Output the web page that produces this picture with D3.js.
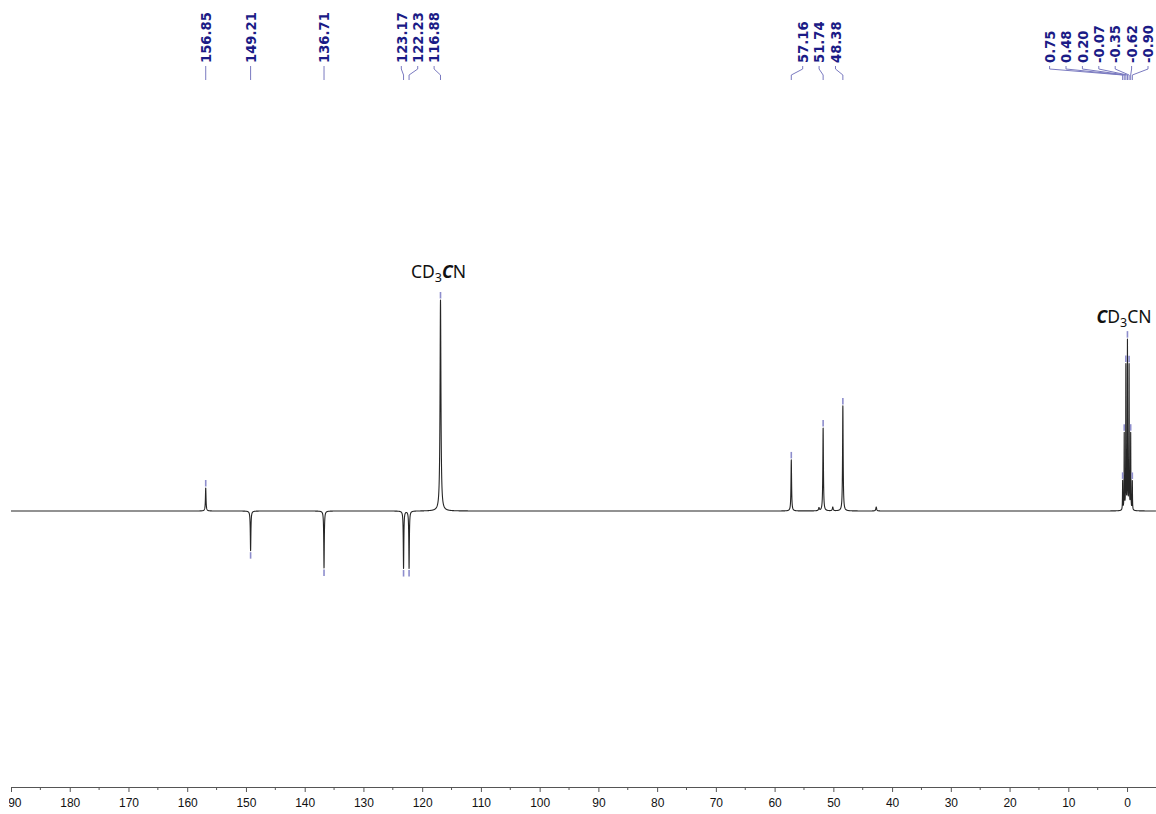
<!DOCTYPE html>
<html>
<head>
<meta charset="utf-8">
<script src="https://cdn.jsdelivr.net/npm/d3@7/dist/d3.min.js"></script>
<style>
  html, body { margin: 0; padding: 0; background: #fff; }
  svg { display: block; }
</style>
</head>
<body>
<svg id="chart" width="1156" height="814"></svg>
<script>
// 13C DEPTQ-style spectrum in CD3CN: picked peaks (ppm), signed intensities, half-widths (ppm)
const peakPpm       = [156.85, 149.21, 136.71, 123.17, 122.23, 116.88, 57.16, 51.74, 48.38,
                       0.75, 0.48, 0.20, -0.07, -0.35, -0.62, -0.90];
const peakIntensity = [10.9, -18.8, -27.0, -27.2, -27.2, 100.0, 24.2, 39.3, 49.8,
                       13.7, 36.0, 68.2, 79.6, 68.2, 36.0, 13.7];
const peakHalfWidth = [0.06, 0.06, 0.055, 0.055, 0.055, 0.09, 0.06, 0.06, 0.06,
                       0.03, 0.03, 0.03, 0.03, 0.03, 0.03, 0.03];
const peakLabels    = ["156.85", "149.21", "136.71", "123.17", "122.23", "116.88",
                       "57.16", "51.74", "48.38",
                       "0.75", "0.48", "0.20", "-0.07", "-0.35", "-0.62", "-0.90"];

// small unlabelled signals
const minorPpm       = [52.45, 50.10, 42.70];
const minorIntensity = [1.4, 1.8, 1.9];
const minorHalfWidth = [0.08, 0.08, 0.08];

// x axis ticks (ppm)
const majorTicks = [190, 180, 170, 160, 150, 140, 130, 120, 110, 100, 90, 80, 70, 60, 50, 40, 30, 20, 10, 0];
const minorTicks = [185, 175, 165, 155, 145, 135, 125, 115, 105, 95, 85, 75, 65, 55, 45, 35, 25, 15, 5];

// solvent annotations
const solventNotes = [
  { ppm: 116.88, parts: [["C", false], ["D", false], ["3", "sub"], ["C", true], ["N", false]] },
  { ppm: 1.32,   parts: [["C", true], ["D", false], ["3", "sub"], ["C", false], ["N", false]] }
];

const svg = d3.select("#chart");
const W = 1156, H = 814;

const x = d3.scaleLinear().domain([190, -4.93]).range([11, 1156]);
const y = d3.scaleLinear().domain([0, 100]).range([511, 300]);

// Lorentzian line shapes summed over all signals
const allPeaks = peakPpm.map((p, i) => ({ p, h: peakIntensity[i], w: peakHalfWidth[i] }))
  .concat(minorPpm.map((p, i) => ({ p, h: minorIntensity[i], w: minorHalfWidth[i] })));

function spectrumAt(ppm) {
  let s = 0;
  for (const k of allPeaks) {
    const d = (ppm - k.p) / k.w;
    s += k.h / (1 + d * d);
  }
  return s;
}

// sampling grid: coarse everywhere, fine around each signal
const grid = [];
for (let v = 190; v >= -4.93; v -= 0.02) grid.push(v);
for (const k of allPeaks) {
  for (let v = k.p - 1.2; v <= k.p + 1.2; v += 0.004) grid.push(v);
  grid.push(k.p);
}
grid.sort((a, b) => b - a);
const spectrum = grid.filter(v => v <= 190 && v >= -4.93).map(v => [v, spectrumAt(v)]);

svg.append("defs").append("clipPath").attr("id", "plotClip")
  .append("rect").attr("x", 9).attr("y", -10).attr("width", W - 9).attr("height", H);

// spectrum trace
svg.append("path")
  .datum(spectrum)
  .attr("fill", "none")
  .attr("stroke", "#262626")
  .attr("stroke-width", 1.1)
  .attr("stroke-linejoin", "round")
  .attr("d", d3.line().x(d => x(d[0])).y(d => y(d[1])));

// peak-pick markers at each apex
const markColor = "#8d8dcc";
const picks = peakPpm.map((p, i) => ({ p, v: spectrumAt(p), label: peakLabels[i] }));
svg.append("g").selectAll("line").data(picks).join("line")
  .attr("x1", d => x(d.p)).attr("x2", d => x(d.p))
  .attr("y1", d => d.v >= 0 ? y(d.v) - 1.5 : y(d.v) + 1.5)
  .attr("y2", d => d.v >= 0 ? y(d.v) - 8 : y(d.v) + 8)
  .attr("stroke", markColor).attr("stroke-width", 1.6);

// label layout: crowded labels are merged into evenly spaced groups
function layoutLabels(xs, spacing, mergeGap, maxX) {
  let groups = xs.map((v, i) => ({ idx: [i] }));
  const place = g => {
    const c = d3.mean(g.idx, i => xs[i]);
    g.pos = g.idx.map((_, k) => c + (k - (g.idx.length - 1) / 2) * spacing);
  };
  groups.forEach(place);
  let merged = true;
  while (merged) {
    merged = false;
    for (let j = 0; j < groups.length - 1; j++) {
      const a = groups[j], b = groups[j + 1];
      if (b.pos[0] - a.pos[a.pos.length - 1] < mergeGap) {
        const g = { idx: a.idx.concat(b.idx) };
        place(g);
        groups.splice(j, 2, g);
        merged = true;
        break;
      }
    }
  }
  const out = new Array(xs.length);
  for (const g of groups) {
    const over = g.pos[g.pos.length - 1] - maxX;
    if (over > 0) g.pos = g.pos.map(v => v - over);
    g.idx.forEach((i, k) => out[i] = g.pos[k]);
  }
  return out;
}

const pickX = picks.map(d => x(d.p));
const labelX = layoutLabels(pickX, 16.4, 36, 1148);

const labelColor = "#1b1b86";
const lab = svg.append("g");
lab.selectAll("text").data(picks).join("text")
  .attr("transform", (d, i) => `translate(${labelX[i] + 0.5},63) rotate(-90)`)
  .attr("dy", "0.36em")
  .attr("text-anchor", "start")
  .attr("font-family", "DejaVu Sans, Verdana, sans-serif")
  .attr("font-weight", "bold")
  .attr("font-size", 13.2)
  .attr("fill", labelColor)
  .text(d => d.label);

lab.selectAll("polyline").data(picks).join("polyline")
  .attr("points", (d, i) => {
    const lx = labelX[i], px = pickX[i];
    return [[lx, 66], [lx, 69], [px, 75], [px, 80]].map(p => p.join(",")).join(" ");
  })
  .attr("fill", "none")
  .attr("stroke", "#7a7ac0")
  .attr("stroke-width", 1);

// solvent annotations with subscripts and emphasised carbon
const noteY = [278, 323];
solventNotes.forEach((n, i) => {
  const t = svg.append("text")
    .attr("x", i === 0 ? x(n.ppm) - 2 : 1124)
    .attr("y", noteY[i])
    .attr("text-anchor", "middle")
    .attr("font-family", "Noto Sans, Open Sans, sans-serif")
    .attr("font-size", 17.5)
    .attr("fill", "#111");
  n.parts.forEach(([s, kind], k) => {
    const ts = t.append("tspan").text(s);
    if (kind === "sub") {
      ts.attr("font-size", 12.5).attr("dy", 4);
    } else {
      const prevSub = k > 0 && n.parts[k - 1][1] === "sub";
      if (prevSub) ts.attr("dy", -4);
      if (kind === true) ts.attr("font-weight", "bold").attr("font-style", "italic");
    }
  });
});

// ppm axis
const axisG = svg.append("g")
  .attr("transform", "translate(0,787)")
  .attr("clip-path", "url(#plotClip)");
axisG.call(
  d3.axisBottom(x).tickValues(majorTicks).tickSize(5).tickSizeOuter(0).tickPadding(6)
    .tickFormat(d3.format("d"))
);
axisG.select(".domain").attr("stroke", "#555");
axisG.selectAll(".tick line").attr("stroke", "#555");
axisG.selectAll(".tick text")
  .attr("font-family", "Liberation Sans, Arial, sans-serif")
  .attr("font-size", 12)
  .attr("fill", "#111");
axisG.append("g").selectAll("line").data(minorTicks).join("line")
  .attr("x1", d => x(d)).attr("x2", d => x(d))
  .attr("y1", 0).attr("y2", 3)
  .attr("stroke", "#555");
</script>
</body>
</html>
